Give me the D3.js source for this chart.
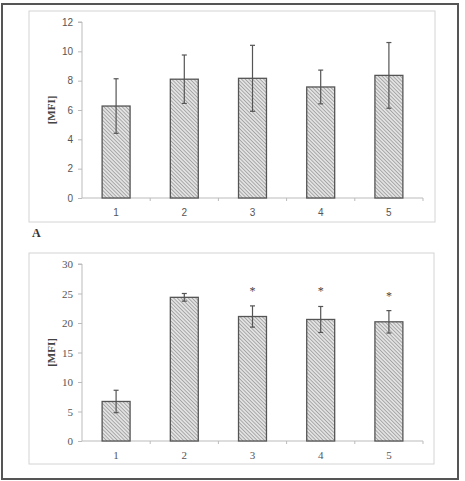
<!DOCTYPE html>
<html>
<head>
<meta charset="utf-8">
<script src="https://cdn.jsdelivr.net/npm/d3@7"></script>
<style>
  body { margin: 0; background: #fff; }
  svg { display: block; }
</style>
</head>
<body>
<script>
// data
const categories = ["1", "2", "3", "4", "5"];
const meansA = [6.27, 8.1, 8.16, 7.57, 8.36];
const errsA = [1.86, 1.65, 2.25, 1.15, 2.24];
const ticksA = [0, 2, 4, 6, 8, 10, 12];
const meansB = [6.7, 24.35, 21.1, 20.6, 20.2];
const errsB = [1.9, 0.65, 1.8, 2.2, 1.9];
const starsB = [false, false, true, true, true];
const ticksB = [0, 5, 10, 15, 20, 25, 30];

const W = 465, H = 481;
const svg = d3.select("body").append("svg")
  .attr("width", W)
  .attr("height", H);

// hatch pattern for the bars
const defs = svg.append("defs");
const pat = defs.append("pattern")
  .attr("id", "hatch")
  .attr("patternUnits", "userSpaceOnUse")
  .attr("width", 2.6)
  .attr("height", 2.6)
  .attr("patternTransform", "rotate(-45)");
pat.append("rect").attr("width", 2.6).attr("height", 2.6).attr("fill", "#e2e2e2");
pat.append("line").attr("x1", 0).attr("y1", 0).attr("x2", 0).attr("y2", 2.6)
  .attr("stroke", "#858585").attr("stroke-width", 1.2);

// outer frame
svg.append("rect")
  .attr("x", 2).attr("y", 4)
  .attr("width", 456).attr("height", 475)
  .attr("fill", "none")
  .attr("stroke", "#555")
  .attr("stroke-width", 2);

function panel(opt) {
  const g = svg.append("g");
  g.append("rect")
    .attr("x", opt.box[0]).attr("y", opt.box[1])
    .attr("width", opt.box[2] - opt.box[0]).attr("height", opt.box[3] - opt.box[1])
    .attr("fill", "#fff").attr("stroke", "#d4d4d4").attr("stroke-width", 1);

  const x = d3.scaleBand()
    .domain(categories)
    .range([82, 423])
    .paddingInner(0.59)
    .paddingOuter(0.295);
  const y = d3.scaleLinear()
    .domain([0, opt.max])
    .range([opt.y0, opt.y1]);

  const rows = opt.means.map((m, i) => ({
    cat: categories[i], mean: m, err: opt.errs[i], star: opt.stars ? opt.stars[i] : false
  }));
  const cx = d => x(d.cat) + x.bandwidth() / 2;

  const yAxis = d3.axisLeft(y).tickValues(opt.ticks).tickSize(4).tickPadding(5);
  const ya = g.append("g").attr("transform", "translate(82,0)").call(yAxis);
  ya.select(".domain").attr("stroke", "#bbb").attr("d", `M-4,${opt.y1}H0V${opt.y0}`);
  ya.selectAll(".tick line").attr("stroke", "#bbb");
  ya.selectAll(".tick text")
    .attr("fill", "#555")
    .style("font-family", opt.font)
    .style("font-size", opt.fs + "px");

  // x axis with ticks between categories
  const xa = g.append("g").attr("transform", `translate(0,${opt.y0})`);
  xa.append("line").attr("x1", 82).attr("x2", 423).attr("stroke", "#bbb");
  const step = x.step();
  d3.range(1, categories.length + 1).forEach(i => {
    xa.append("line")
      .attr("x1", 82 + i * step)
      .attr("x2", 82 + i * step)
      .attr("y1", 0).attr("y2", 3)
      .attr("stroke", "#bbb");
  });
  xa.selectAll("text.cat")
    .data(categories)
    .enter().append("text")
    .attr("class", "cat")
    .attr("x", d => x(d) + x.bandwidth() / 2)
    .attr("y", 18)
    .attr("text-anchor", "middle")
    .attr("fill", "#555")
    .style("font-family", opt.font)
    .style("font-size", opt.fs + "px")
    .text(d => d);

  // bars
  g.selectAll("rect.bar")
    .data(rows)
    .enter().append("rect")
    .attr("class", "bar")
    .attr("x", d => x(d.cat))
    .attr("y", d => y(d.mean))
    .attr("width", x.bandwidth())
    .attr("height", d => y(0) - y(d.mean))
    .attr("fill", "url(#hatch)")
    .attr("stroke", "#555")
    .attr("stroke-width", 1.3);

  // error bars
  const eb = g.selectAll("g.err")
    .data(rows)
    .enter().append("g").attr("class", "err");
  eb.append("line")
    .attr("x1", cx).attr("x2", cx)
    .attr("y1", d => y(d.mean + d.err))
    .attr("y2", d => y(d.mean - d.err))
    .attr("stroke", "#555").attr("stroke-width", 1.2);
  [1, -1].forEach(s => {
    eb.append("line")
      .attr("x1", d => cx(d) - 2.5)
      .attr("x2", d => cx(d) + 2.5)
      .attr("y1", d => y(d.mean + s * d.err))
      .attr("y2", d => y(d.mean + s * d.err))
      .attr("stroke", "#555").attr("stroke-width", 1.2);
  });

  g.selectAll("text.star")
    .data(rows.filter(d => d.star))
    .enter().append("text")
    .attr("class", "star")
    .attr("x", cx)
    .attr("y", d => y(d.mean + d.err) - 11)
    .attr("text-anchor", "middle")
    .attr("fill", "#444")
    .style("font-family", "Liberation Serif")
    .style("font-size", "12px")
    .text("*");

  // y label
  g.append("text")
    .attr("transform", `translate(${opt.labX},${(opt.y0 + opt.y1) / 2}) rotate(-90)`)
    .attr("text-anchor", "middle")
    .attr("fill", "#444")
    .style("font-family", "Liberation Serif")
    .style("font-weight", "bold")
    .style("font-size", "11px")
    .text("[MFI]");
}

panel({
  box: [29, 11, 435, 222],
  y0: 198, y1: 22, max: 12,
  ticks: ticksA, means: meansA, errs: errsA,
  font: "Liberation Sans", fs: 10, labX: 55
});

panel({
  box: [29, 253, 434, 464],
  y0: 441, y1: 264, max: 30,
  ticks: ticksB, means: meansB, errs: errsB, stars: starsB,
  font: "Liberation Serif", fs: 11, labX: 55
});

// panel letter
svg.append("text")
  .attr("x", 32).attr("y", 237)
  .attr("fill", "#333")
  .style("font-family", "Liberation Serif")
  .style("font-weight", "bold")
  .style("font-size", "12px")
  .text("A");
</script>
</body>
</html>
